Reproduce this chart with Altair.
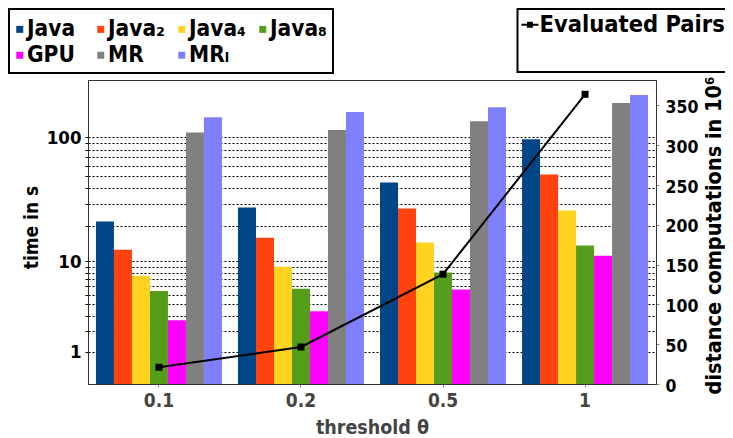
import altair as alt
import pandas as pd

thresholds = ["0.1", "0.2", "0.5", "1"]
series = ["Java", "Java₂", "Java₄", "Java₈", "GPU", "MR", "MRₗ"]
colors = ["#004586", "#ff420e", "#ffd320", "#579d1c", "#ff00ff", "#808080", "#8080ff"]

java = [21.6, 28.0, 44.3, 96.4]
java2 = [12.6, 15.9, 27.5, 51.3]
java4 = [7.5, 9.0, 14.5, 26.5]
java8 = [5.4, 5.7, 8.0, 13.7]
gpu = [2.7, 3.4, 5.6, 11.2]
mr = [109, 114, 133, 184]
mrl = [143, 157, 171, 212]
pairs = [21, 46.5, 138, 364]

time_grid = [1, 2, 3, 4, 5, 6, 7, 8, 9, 10, 20, 30, 40, 50, 60, 70, 80, 90, 100]
pair_ticks = [0, 50, 100, 150, 200, 250, 300, 350]

rows = []
for s, vals in zip(series, [java, java2, java4, java8, gpu, mr, mrl]):
    for t, v in zip(thresholds, vals):
        rows.append({"threshold": t, "series": s, "time": v})
df = pd.DataFrame(rows)
df_line = pd.DataFrame({"threshold": thresholds, "pairs": pairs, "metric": ["Evaluated Pairs"] * 4})

FONT = "DejaVu Sans Condensed, DejaVu Sans"

bars = alt.Chart(df).mark_bar(opacity=1).encode(
    x=alt.X("threshold:N", sort=thresholds,
            scale=alt.Scale(paddingInner=0.113, paddingOuter=0.056),
            axis=alt.Axis(title="threshold θ", labelAngle=0, labelColor="#444444",
                          titleColor="#444444", labelFontSize=19, titleFontSize=19.5,
                          tickSize=3, tickColor="#888888", labelPadding=4, titlePadding=8,
                          domainColor="#333333")),
    xOffset=alt.XOffset("series:N", sort=series, scale=alt.Scale(paddingInner=0, paddingOuter=0)),
    y=alt.Y("time:Q",
            scale=alt.Scale(type="symlog", constant=1.3, domain=[0, 277], nice=False),
            axis=alt.Axis(title="time in s", values=time_grid,
                          labelExpr="(datum.value == 1 || datum.value == 10 || datum.value == 100) ? datum.label : ''",
                          grid=True, gridDash=[2, 2], gridColor="black", gridOpacity=1, gridWidth=1,
                          tickSize=3, tickColor="black", labelFontSize=18.5, titleFontSize=19,
                          labelPadding=4, titlePadding=5, titleY=147, domainColor="#333333")),
    color=alt.Color("series:N", sort=series,
                    scale=alt.Scale(domain=series, range=colors),
                    legend=alt.Legend(title=" ", titleFontSize=1, titlePadding=2,
                                      orient="none", legendX=-79, legendY=-71,
                                      columns=4, direction="horizontal", gridAlign="all",
                                      symbolType="square", symbolSize=49, symbolStrokeWidth=0,
                                      symbolOffset={"expr": "-6.5"}, labelOffset={"expr": "-4"},
                                      labelFontSize=22.5, columnPadding=12,
                                      rowPadding=3, padding=6, strokeColor="black",
                                      labelLimit=200)),
)

line = alt.Chart(df_line).mark_line(
    strokeWidth=2,
    point=alt.OverlayMarkDef(shape="square", size=49, filled=True),
).encode(
    x=alt.X("threshold:N", sort=thresholds),
    y=alt.Y("pairs:Q", scale=alt.Scale(domain=[0, 382], nice=False),
            axis=alt.Axis(orient="right", title="distance computations in 10⁶",
                          values=pair_ticks, grid=False, labelOffset=2, tickSize=3,
                          tickColor="#888888", labelFontSize=17.5, titleFontSize=21.5,
                          titleAngle=270, titleBaseline="top", labelPadding=6, titlePadding=6,
                          titleY=155, domainColor="#333333")),
    color=alt.Color("metric:N",
                    scale=alt.Scale(domain=["Evaluated Pairs", " "], range=["black", "rgba(0,0,0,0)"]),
                    legend=alt.Legend(title=None, orient="none", legendX=429.5, legendY=-71,
                                      direction="vertical", columns=1,
                                      symbolType="M-1,0H1M-0.35,-0.24H0.35M-0.35,0H0.35M-0.35,0.24H0.35",
                                      symbolSize=289, symbolStrokeWidth=2,
                                      symbolOffset={"expr": "-3.3"}, labelOffset={"expr": "-2.2"},
                                      labelFontSize=23.5, rowPadding=6,
                                      padding=4, strokeColor="black", labelLimit=300)),
)

chart = alt.layer(bars, line).resolve_scale(
    y="independent", color="independent"
).properties(
    width=568, height=304,
    autosize=alt.AutoSizeParams(type="none"),
    padding={"left": 80, "top": 72, "right": 69, "bottom": 54},
).configure_view(
    stroke="#333333", strokeWidth=1
).configure_axis(
    labelFont=FONT, titleFont=FONT, labelFontWeight="bold", titleFontWeight="bold",
    labelColor="black", titleColor="black"
).configure_legend(
    labelFont=FONT, labelFontWeight="bold", labelColor="black", strokeWidth=2
)

chart.save("out.html", embed_options={"renderer": "svg", "actions": False})
